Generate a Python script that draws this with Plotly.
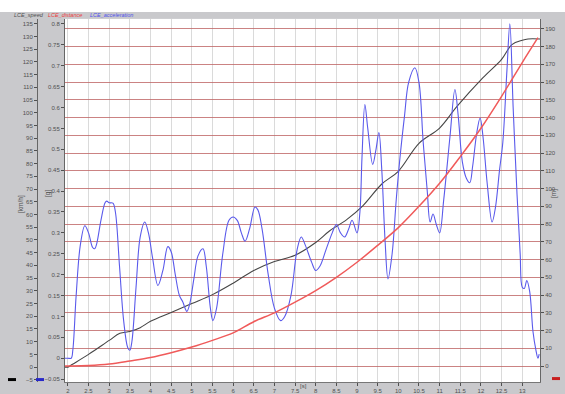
import plotly.graph_objects as go

W, H = 565, 394

# ---------------- data ----------------
speed_t = [1.93, 2.0, 2.1, 2.5, 3.0, 3.26, 3.5, 3.75, 4.0, 4.5, 5.0, 5.5, 6.0, 6.5, 7.0,
           7.5, 8.0, 8.34, 8.75, 9.14, 9.6, 10.0, 10.5, 11.0, 11.42, 12.05, 12.5,
           12.75, 13.0, 13.14, 13.43]
speed_v = [0, 0, 1, 5, 10.5, 13.3, 14, 15.5, 18, 21.5, 25, 28.5, 33, 38, 41.5,
           44, 49, 53.6, 58, 63.4, 72, 77, 88, 94, 102.5, 113.8, 121,
           126.8, 128.5, 129, 129]

dist_t = [1.93, 2.1, 2.5, 3.0, 3.5, 4.0, 4.5, 5.0, 5.5, 6.0, 6.5, 7.0, 7.5, 8.0, 8.5,
          9.0, 9.5, 10.0, 10.5, 11.0, 11.5, 12.0, 12.5, 13.0, 13.38]
dist_v = [0, 0, 0.3, 1.2, 2.9, 4.8, 7.5, 10.7, 14.5, 18.7, 25, 30, 36, 42.5, 50,
          58.5, 68, 78, 90, 103, 118, 134, 152, 171, 185]

acc_t = [1.93, 2.0, 2.08, 2.12, 2.2, 2.3, 2.41, 2.5, 2.6, 2.65, 2.7, 2.8, 2.9, 2.94, 3.0,
         3.09, 3.15, 3.25, 3.35, 3.45, 3.5, 3.55, 3.65, 3.75, 3.86, 3.95, 4.05, 4.18,
         4.3, 4.42, 4.5, 4.6, 4.7, 4.78, 4.88, 4.95, 5.05, 5.15, 5.27, 5.35, 5.45, 5.51,
         5.6, 5.75, 5.9, 6.0, 6.1, 6.2, 6.29, 6.4, 6.53, 6.6, 6.7, 6.85, 7.0, 7.15, 7.25,
         7.4, 7.55, 7.65, 7.75, 7.9, 8.0, 8.1, 8.25, 8.4, 8.5, 8.6, 8.7, 8.8, 8.88, 9.0,
         9.07, 9.12, 9.19, 9.26, 9.38, 9.46, 9.53, 9.6, 9.68, 9.75, 9.85, 9.95, 10.04,
         10.15, 10.25, 10.4, 10.5, 10.6, 10.7, 10.77, 10.84, 10.92, 11.0, 11.1, 11.25,
         11.37, 11.45, 11.55, 11.65, 11.73, 11.8, 11.9, 11.98, 12.05, 12.15, 12.27,
         12.35, 12.45, 12.53, 12.63, 12.7, 12.78, 12.87, 12.95, 13.0, 13.05, 13.11,
         13.18, 13.26, 13.33, 13.38, 13.41]
acc_v = [0.0, 0.0, 0.0, 0.02, 0.15, 0.27, 0.317, 0.30, 0.265, 0.262, 0.275, 0.33, 0.372,
         0.376, 0.372, 0.371, 0.35, 0.22, 0.09, 0.025, 0.019, 0.04, 0.17, 0.29, 0.326,
         0.30, 0.24, 0.174, 0.21, 0.267, 0.255, 0.20, 0.15, 0.135, 0.112, 0.13, 0.19,
         0.245, 0.262, 0.22, 0.12, 0.09, 0.12, 0.25, 0.33, 0.338, 0.33, 0.30, 0.28, 0.31,
         0.362, 0.355, 0.31, 0.20, 0.12, 0.09, 0.10, 0.15, 0.26, 0.29, 0.27, 0.23, 0.21,
         0.22, 0.26, 0.30, 0.32, 0.30, 0.29, 0.31, 0.33, 0.30, 0.35, 0.48, 0.607, 0.55,
         0.464, 0.50, 0.54, 0.45, 0.28, 0.19, 0.25, 0.38, 0.48, 0.58, 0.66, 0.695, 0.66,
         0.52, 0.40, 0.326, 0.345, 0.32, 0.30, 0.38, 0.53, 0.643, 0.58, 0.47, 0.43, 0.42,
         0.46, 0.54, 0.575, 0.53, 0.42, 0.326, 0.36, 0.45, 0.517, 0.69, 0.80, 0.60, 0.40,
         0.25, 0.17, 0.167, 0.186, 0.16, 0.064, 0.02, 0.0, 0.01]

x_ticks = [2, 2.5, 3, 3.5, 4, 4.5, 5, 5.5, 6, 6.5, 7, 7.5, 8, 8.5, 9, 9.5, 10, 10.5,
           11, 11.5, 12, 12.5, 13]
legend_names = ["LCE_speed", "LCE_distance", "LCE_acceleration"]

# ---------------- styling ----------------
BG = "#c9c9cc"
FONT = "Liberation Sans"
TICKC = "#505050"

def px(x):
    return x / W

def py(y):
    return 1 - y / H

x0, x1 = 65, 540
y0, y1 = 19, 384

fig = go.Figure()
fig.add_trace(go.Scatter(x=dist_t, y=dist_v, mode="lines", yaxis="y3",
                         line=dict(color="rgb(240,90,90)", width=1.5, shape="spline"),
                         name=legend_names[1]))
fig.add_trace(go.Scatter(x=speed_t, y=speed_v, mode="lines", yaxis="y",
                         line=dict(color="rgb(70,70,70)", width=1.1, shape="spline"),
                         name=legend_names[0]))
fig.add_trace(go.Scatter(x=acc_t, y=acc_v, mode="lines", yaxis="y2",
                         line=dict(color="rgb(90,90,235)", width=1.1, shape="spline",
                                   smoothing=1.0),
                         name=legend_names[2]))

tickfont = dict(family=FONT, size=6, color=TICKC)

fig.update_layout(
    width=W, height=H,
    margin=dict(l=0, r=0, t=0, b=0),
    paper_bgcolor=BG, plot_bgcolor="white",
    showlegend=False,
    xaxis=dict(domain=[px(x0), px(x1)], range=[1.93, 13.43], tickvals=x_ticks,
               showgrid=True, gridcolor="rgb(218,218,218)", gridwidth=1,
               zeroline=False, ticks="outside", ticklen=3, tickcolor=TICKC,
               tickfont=tickfont, showline=True, linecolor="#777", mirror=False),
    yaxis=dict(domain=[py(y1), py(y0)], range=[-5.87, 136.9], dtick=5, tick0=0,
               anchor="free", position=px(37), side="left", showgrid=False,
               zeroline=False, ticks="outside", ticklen=3, tickcolor=TICKC,
               tickfont=tickfont, showline=True, linecolor="#666"),
    yaxis2=dict(domain=[py(y1), py(y0)], range=[-0.057, 0.812], dtick=0.05, tick0=0,
                overlaying="y", anchor="x", side="left", showgrid=False,
                zeroline=False, ticks="outside", ticklen=3, tickcolor=TICKC,
                tickfont=tickfont, showline=True, linecolor="#666"),
    yaxis3=dict(domain=[py(y1), py(y0)], range=[-9.0, 195.6], dtick=10, tick0=0,
                overlaying="y", anchor="x", side="right", showgrid=True,
                gridcolor="rgba(190,100,100,0.8)", gridwidth=1.3,
                zeroline=False, ticks="outside", ticklen=3, tickcolor=TICKC,
                tickfont=tickfont, showline=True, linecolor="#666"),
)

shapes = [
    dict(type="rect", xref="paper", yref="paper", x0=0, x1=1, y0=py(12), y1=1,
         fillcolor="white", line=dict(width=0), layer="below"),
    dict(type="rect", xref="paper", yref="paper", x0=px(8), x1=px(16), y0=py(383),
         y1=py(380), fillcolor="black", line=dict(width=0)),
    dict(type="rect", xref="paper", yref="paper", x0=px(36), x1=px(44), y0=py(383),
         y1=py(380), fillcolor="rgb(40,40,200)", line=dict(width=0)),
    dict(type="rect", xref="paper", yref="paper", x0=px(552), x1=px(560), y0=py(382),
         y1=py(379), fillcolor="rgb(200,30,30)", line=dict(width=0)),
]
fig.update_layout(shapes=shapes)

ann = []
legend_cols = ["rgb(80,80,80)", "rgb(235,60,60)", "rgb(80,80,235)"]
legend_x = [12, 46, 88]
for name, col, xx in zip(legend_names, legend_cols, legend_x):
    ann.append(dict(text="<i>" + name + "</i>", x=px(xx), y=py(15), xref="paper",
                    yref="paper", xanchor="left", yanchor="middle", showarrow=False,
                    font=dict(family=FONT, size=5.5, color=col)))
for txt, xx, yy in [("[km/h]", 15, 205), ("[g]", 42, 195), ("[m]", 560, 195)]:
    ann.append(dict(text=txt, x=px(xx), y=py(yy), xref="paper", yref="paper",
                    textangle=-90, showarrow=False,
                    font=dict(family=FONT, size=6.5, color=TICKC)))
ann.append(dict(text="[s]", x=px(303), y=py(393), xref="paper", yref="paper",
                showarrow=False, font=dict(family=FONT, size=6, color=TICKC)))
fig.update_layout(annotations=ann)

fig.write_html("out.html")
